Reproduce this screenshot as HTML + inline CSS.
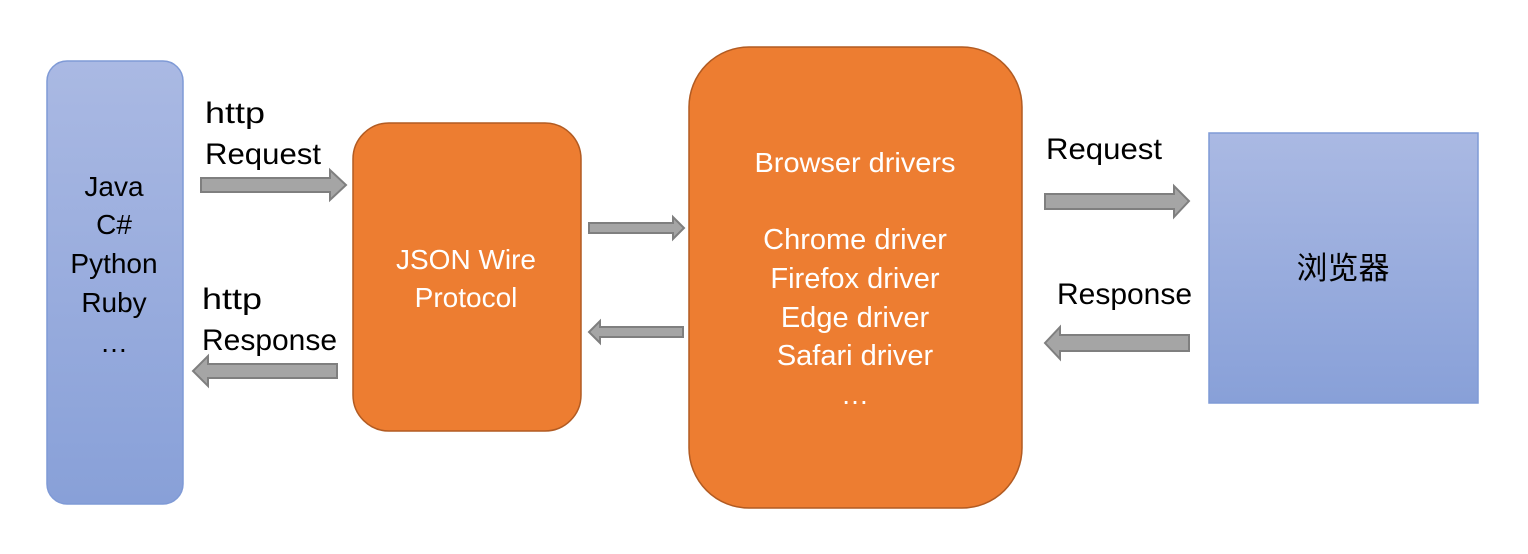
<!DOCTYPE html>
<html><head><meta charset="utf-8"><style>html,body{margin:0;padding:0;background:#fff}svg{display:block}</style></head>
<body>
<svg width="1528" height="554" viewBox="0 0 1528 554" xmlns="http://www.w3.org/2000/svg" font-family="'Liberation Sans','Noto Sans CJK SC',sans-serif" font-size="28">
<defs>
<linearGradient id="bg" x1="0" y1="0" x2="0" y2="1"><stop offset="0" stop-color="#aab9e3"/><stop offset="1" stop-color="#88a0d8"/></linearGradient>
</defs>
<rect x="47" y="61" width="136" height="443" rx="20" fill="url(#bg)" stroke="#7f9ad6" stroke-width="1.5"/>
<rect x="353" y="123" width="228" height="308" rx="36" fill="#ed7d31" stroke="#b25b22" stroke-width="1.5"/>
<rect x="689" y="47" width="333" height="461" rx="60" fill="#ed7d31" stroke="#b25b22" stroke-width="1.5"/>
<rect x="1209" y="133" width="269" height="270" fill="url(#bg)" stroke="#7f9ad6" stroke-width="1.5"/>
<g fill="#a5a5a5" stroke="#7f7f7f" stroke-width="2">
<polygon points="201,178 330,178 330,170 346,185 330,200 330,192 201,192"/>
<polygon points="337,364 208,364 208,356 193,371 208,386 208,378 337,378"/>
<polygon points="589,223 673,223 673,217 684,228 673,239 673,233 589,233"/>
<polygon points="683,327 600,327 600,321 589,332 600,343 600,337 683,337"/>
<polygon points="1045,194 1174,194 1174,186 1189,201 1174,217 1174,209 1045,209"/>
<polygon points="1189,335 1060,335 1060,327 1045,343 1060,359 1060,351 1189,351"/>
</g>
<g fill="#000" font-size="30">
<text x="205" y="123" textLength="60" lengthAdjust="spacingAndGlyphs">http</text>
<text x="205" y="164" textLength="116" lengthAdjust="spacingAndGlyphs">Request</text>
<text x="202" y="309" textLength="60" lengthAdjust="spacingAndGlyphs">http</text>
<text x="202" y="350" textLength="135" lengthAdjust="spacingAndGlyphs">Response</text>
<text x="1046" y="159" textLength="116" lengthAdjust="spacingAndGlyphs">Request</text>
<text x="1057" y="304" textLength="135" lengthAdjust="spacingAndGlyphs">Response</text>
<text x="1343" y="279" text-anchor="middle" font-size="31">浏览器</text>
</g>
<g fill="#000" text-anchor="middle" font-size="28">
<text x="114" y="196">Java</text>
<text x="114" y="234">C#</text>
<text x="114" y="273">Python</text>
<text x="114" y="312">Ruby</text>
<text x="114" y="352">…</text>
</g>
<g fill="#fff" text-anchor="middle" font-size="28">
<text x="466" y="269">JSON Wire</text>
<text x="466" y="307">Protocol</text>
<text x="855" y="172" textLength="201" lengthAdjust="spacingAndGlyphs">Browser drivers</text>
<text x="855" y="249" font-size="29">Chrome driver</text>
<text x="855" y="288" font-size="29">Firefox driver</text>
<text x="855" y="327" font-size="29">Edge driver</text>
<text x="855" y="365" font-size="29">Safari driver</text>
<text x="855" y="404">…</text>
</g>
</svg>
</body></html>
